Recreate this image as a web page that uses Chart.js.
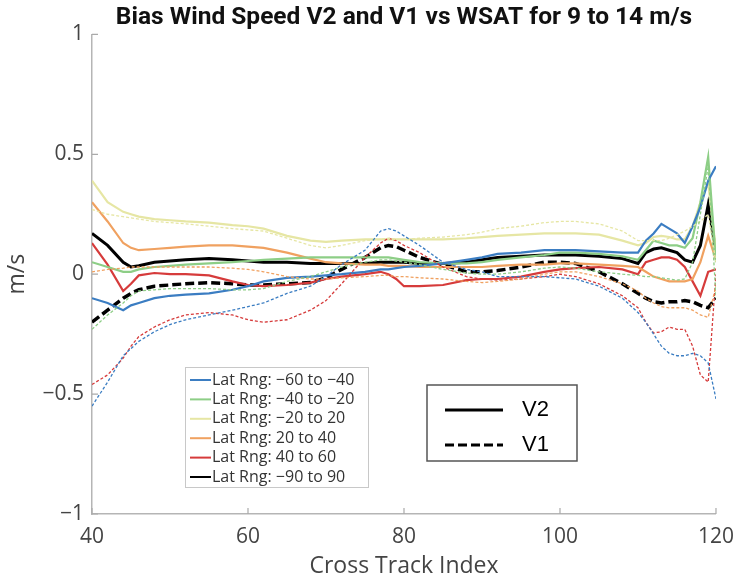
<!DOCTYPE html>
<html>
<head>
<meta charset="utf-8">
<script src="https://cdn.jsdelivr.net/npm/chart.js@4.4.1/dist/chart.umd.min.js"></script>
<style>
  html, body { margin: 0; background: #fff; }
</style>
</head>
<body>
<canvas id="graficaBias" width="744" height="580"></canvas>
<script>
// indices de cross track donde se leyeron los valores
const crossTrack = [40,42,44,45,46,48,50,52,55,58,60,62,65,68,70,72,75,77,78,79,80,82,85,88,90,92,95,98,100,102,105,108,110,111,112,113,114,115,116,117,118,119,120];

const xTicks = [40, 60, 80, 100, 120];
const yTicks = [-1, -0.5, 0, 0.5, 1];

const latRanges = ['Lat Rng: −60 to −40', 'Lat Rng: −40 to −20', 'Lat Rng: −20 to 20', 'Lat Rng: 20 to 40', 'Lat Rng: 40 to 60', 'Lat Rng: −90 to 90'];
const colores = ['#3b7dc2', '#8dce86', '#e6e6a4', '#f0a160', '#d63b3b', '#000000'];

// V2 (linea continua)
const v2_m60m40 = [-0.10,-0.12,-0.15,-0.13,-0.12,-0.10,-0.09,-0.085,-0.08,-0.065,-0.05,-0.03,-0.015,-0.01,-0.005,0.0,0.01,0.02,0.02,0.025,0.03,0.035,0.045,0.06,0.07,0.085,0.09,0.10,0.10,0.10,0.095,0.09,0.09,0.14,0.17,0.21,0.19,0.17,0.13,0.20,0.28,0.39,0.45];
const v2_m40m20 = [0.05,0.03,0.01,0.01,0.02,0.03,0.035,0.04,0.045,0.05,0.055,0.06,0.065,0.07,0.07,0.07,0.07,0.07,0.07,0.065,0.06,0.05,0.045,0.045,0.05,0.06,0.07,0.08,0.09,0.09,0.085,0.075,0.06,0.10,0.14,0.13,0.12,0.12,0.11,0.15,0.30,0.49,0.05];
const v2_m20p20 = [0.39,0.30,0.26,0.25,0.24,0.23,0.225,0.22,0.215,0.205,0.20,0.19,0.16,0.14,0.135,0.14,0.145,0.145,0.145,0.145,0.145,0.145,0.145,0.15,0.155,0.16,0.165,0.17,0.17,0.17,0.165,0.14,0.12,0.13,0.155,0.16,0.155,0.145,0.145,0.20,0.30,0.38,0.10];
const v2_p20p40 = [0.30,0.22,0.13,0.11,0.10,0.105,0.11,0.115,0.12,0.12,0.115,0.11,0.09,0.065,0.05,0.045,0.04,0.04,0.035,0.035,0.035,0.03,0.03,0.03,0.03,0.035,0.04,0.04,0.045,0.045,0.04,0.035,0.03,0.01,-0.01,-0.02,-0.03,-0.03,-0.03,-0.02,0.05,0.16,0.06];
const v2_p40p60 = [0.13,0.04,-0.07,-0.04,-0.005,0.005,0.0,0.0,-0.005,-0.03,-0.045,-0.05,-0.045,-0.035,-0.02,-0.01,0.0,0.01,0.0,-0.02,-0.05,-0.05,-0.045,-0.025,-0.02,-0.02,-0.01,0.01,0.02,0.025,0.03,0.02,0.0,0.05,0.06,0.07,0.07,0.06,0.03,-0.03,-0.09,0.01,0.02];
const v2_m90p90 = [0.17,0.12,0.05,0.03,0.035,0.05,0.055,0.06,0.065,0.06,0.055,0.05,0.05,0.045,0.045,0.045,0.045,0.05,0.05,0.05,0.05,0.045,0.045,0.05,0.06,0.07,0.075,0.08,0.08,0.08,0.075,0.065,0.045,0.09,0.105,0.11,0.10,0.09,0.06,0.05,0.12,0.29,0.09];

// V1 (linea punteada)
const v1_m60m40 = [-0.55,-0.45,-0.34,-0.31,-0.28,-0.24,-0.21,-0.19,-0.17,-0.15,-0.135,-0.12,-0.08,-0.05,-0.01,0.04,0.10,0.18,0.19,0.18,0.16,0.12,0.05,0.02,0.01,-0.01,-0.01,-0.01,-0.015,-0.02,-0.05,-0.10,-0.16,-0.20,-0.25,-0.30,-0.33,-0.34,-0.34,-0.33,-0.34,-0.37,-0.52];
const v1_m40m20 = [-0.23,-0.17,-0.12,-0.09,-0.07,-0.065,-0.06,-0.06,-0.06,-0.065,-0.065,-0.06,-0.03,-0.01,0.01,0.03,0.05,0.06,0.06,0.055,0.05,0.04,0.02,0.005,0.0,0.0,0.01,0.025,0.03,0.025,0.01,0.0,-0.005,-0.01,-0.01,-0.015,-0.02,-0.025,-0.02,0.05,0.25,0.45,-0.10];
const v1_m20p20 = [0.27,0.25,0.24,0.235,0.23,0.22,0.215,0.21,0.20,0.19,0.185,0.18,0.15,0.12,0.11,0.12,0.14,0.145,0.15,0.145,0.145,0.15,0.155,0.165,0.175,0.19,0.20,0.215,0.22,0.22,0.21,0.18,0.14,0.14,0.14,0.14,0.15,0.165,0.18,0.20,0.22,0.25,0.05];
const v1_p20p40 = [0.01,0.02,0.025,0.03,0.03,0.03,0.03,0.03,0.03,0.025,0.02,0.01,-0.01,-0.02,-0.02,-0.015,-0.01,-0.005,-0.005,-0.01,-0.01,-0.015,-0.02,-0.03,-0.035,-0.03,-0.02,0.0,0.01,0.01,-0.01,-0.04,-0.07,-0.10,-0.12,-0.135,-0.14,-0.14,-0.14,-0.15,-0.17,-0.18,-0.05];
const v1_p40p60 = [-0.46,-0.42,-0.35,-0.30,-0.26,-0.22,-0.19,-0.17,-0.16,-0.17,-0.19,-0.20,-0.19,-0.15,-0.11,-0.04,0.07,0.13,0.15,0.14,0.12,0.09,0.03,-0.01,-0.02,-0.025,-0.02,-0.01,0.0,-0.01,-0.04,-0.09,-0.14,-0.20,-0.245,-0.24,-0.22,-0.23,-0.23,-0.30,-0.42,-0.45,0.0];
const v1_m90p90 = [-0.20,-0.15,-0.10,-0.08,-0.065,-0.05,-0.045,-0.04,-0.035,-0.04,-0.045,-0.045,-0.04,-0.035,-0.015,0.02,0.07,0.11,0.12,0.115,0.10,0.07,0.04,0.01,0.01,0.015,0.03,0.05,0.05,0.045,0.01,-0.04,-0.08,-0.10,-0.115,-0.12,-0.115,-0.115,-0.11,-0.115,-0.13,-0.14,-0.10];

const seriesV2 = [v2_m60m40, v2_m40m20, v2_m20p20, v2_p20p40, v2_p40p60, v2_m90p90];
const seriesV1 = [v1_m60m40, v1_m40m20, v1_m20p20, v1_p20p40, v1_p40p60, v1_m90p90];

const fuente = "'Open Sans', 'Liberation Sans', sans-serif";

function puntos(valores) {
  return valores.map((v, i) => ({ x: crossTrack[i], y: v }));
}

// primero las V1 de color, luego las V2 de color, y al final las negras encima
const datasets = [];
for (let i = 0; i < 5; i++) {
  datasets.push({ label: latRanges[i] + ' V1', data: puntos(seriesV1[i]), borderColor: colores[i], borderWidth: 1.3, borderDash: [3, 2] });
}
for (let i = 0; i < 5; i++) {
  datasets.push({ label: latRanges[i] + ' V2', data: puntos(seriesV2[i]), borderColor: colores[i], borderWidth: 2.2 });
}
datasets.push({ label: latRanges[5] + ' V1', data: puntos(v1_m90p90), borderColor: '#000', borderWidth: 3.5, borderDash: [9, 4] });
datasets.push({ label: latRanges[5] + ' V2', data: puntos(v2_m90p90), borderColor: '#000', borderWidth: 3 });

// ticks hacia dentro y las dos leyendas dentro del area
const extras = {
  id: 'extras',
  afterDraw(chart) {
    const ctx = chart.ctx;
    const sx = chart.scales.x, sy = chart.scales.y;
    const area = chart.chartArea;
    ctx.save();
    ctx.strokeStyle = '#aaaaaa';
    ctx.lineWidth = 1.2;
    ctx.beginPath();
    yTicks.forEach(t => { const p = sy.getPixelForValue(t); ctx.moveTo(area.left, p); ctx.lineTo(area.left + 6, p); });
    xTicks.forEach(t => { const p = sx.getPixelForValue(t); ctx.moveTo(p, area.bottom); ctx.lineTo(p, area.bottom - 6); });
    ctx.stroke();

    // leyenda de rangos de latitud
    const lx = 185, ly = 367, lw = 183, lh = 120;
    ctx.fillStyle = '#fff';
    ctx.fillRect(lx, ly, lw, lh);
    ctx.strokeStyle = '#c8c8c8';
    ctx.lineWidth = 1;
    ctx.strokeRect(lx + 0.5, ly + 0.5, lw, lh);
    ctx.font = '16px ' + fuente;
    ctx.textBaseline = 'middle';
    ctx.textAlign = 'left';
    latRanges.forEach((txt, i) => {
      const y = ly + 13 + i * 19.4;
      ctx.strokeStyle = colores[i];
      ctx.lineWidth = 2;
      ctx.beginPath(); ctx.moveTo(lx + 5, y); ctx.lineTo(lx + 26, y); ctx.stroke();
      ctx.fillStyle = '#333';
      ctx.fillText(txt, lx + 27, y);
    });

    // leyenda V2 / V1
    const bx = 427, by = 385, bw = 150, bh = 76;
    ctx.fillStyle = '#fff';
    ctx.fillRect(bx, by, bw, bh);
    ctx.strokeStyle = '#555';
    ctx.lineWidth = 1.5;
    ctx.strokeRect(bx, by, bw, bh);
    ctx.strokeStyle = '#000';
    ctx.lineWidth = 3;
    ctx.beginPath(); ctx.moveTo(445, 410); ctx.lineTo(503, 410); ctx.stroke();
    ctx.setLineDash([9, 4]);
    ctx.beginPath(); ctx.moveTo(445, 445); ctx.lineTo(503, 445); ctx.stroke();
    ctx.setLineDash([]);
    ctx.fillStyle = '#000';
    ctx.font = "22px 'Liberation Sans', Arial, sans-serif";
    ctx.fillText('V2', 522, 410);
    ctx.fillText('V1', 522, 445);
    ctx.restore();
  }
};

const chart = new Chart(document.getElementById('graficaBias').getContext('2d'), {
  type: 'line',
  data: { datasets: datasets },
  options: {
    responsive: false,
    animation: false,
    layout: { padding: { right: 23 } },
    elements: { point: { radius: 0 }, line: { tension: 0 } },
    plugins: {
      legend: { display: false },
      tooltip: { enabled: false },
      title: {
        display: true,
        fullSize: false,
        text: 'Bias Wind Speed V2 and V1 vs WSAT for 9 to 14 m/s',
        color: '#111',
        font: { family: "'Roboto', sans-serif", weight: 'bold', size: 24.5 },
        padding: { top: 3, bottom: 2 }
      }
    },
    scales: {
      x: {
        type: 'linear', min: 40, max: 120,
        afterBuildTicks: s => { s.ticks = xTicks.map(v => ({ value: v })); },
        afterFit: s => { s.height = 66; },
        grid: { display: false, drawTicks: false },
        border: { color: '#b5b5b5', width: 1.5 },
        ticks: { color: '#444', padding: 10, maxRotation: 0, font: { family: fuente, size: 21 } },
        title: { display: true, text: 'Cross Track Index', color: '#444', padding: 0, font: { family: fuente, size: 23 } }
      },
      y: {
        min: -1, max: 1,
        afterBuildTicks: s => { s.ticks = yTicks.map(v => ({ value: v })); },
        afterFit: s => { s.width = 92; },
        grid: { display: false, drawTicks: false },
        border: { color: '#b5b5b5', width: 1.5 },
        ticks: { color: '#444', padding: 8, font: { family: fuente, size: 21 }, callback: v => String(v).replace('-', '−') },
        title: { display: true, text: 'm/s', color: '#444', padding: 4, font: { family: fuente, size: 23 } }
      }
    }
  },
  plugins: [extras]
});
</script>
</body>
</html>
